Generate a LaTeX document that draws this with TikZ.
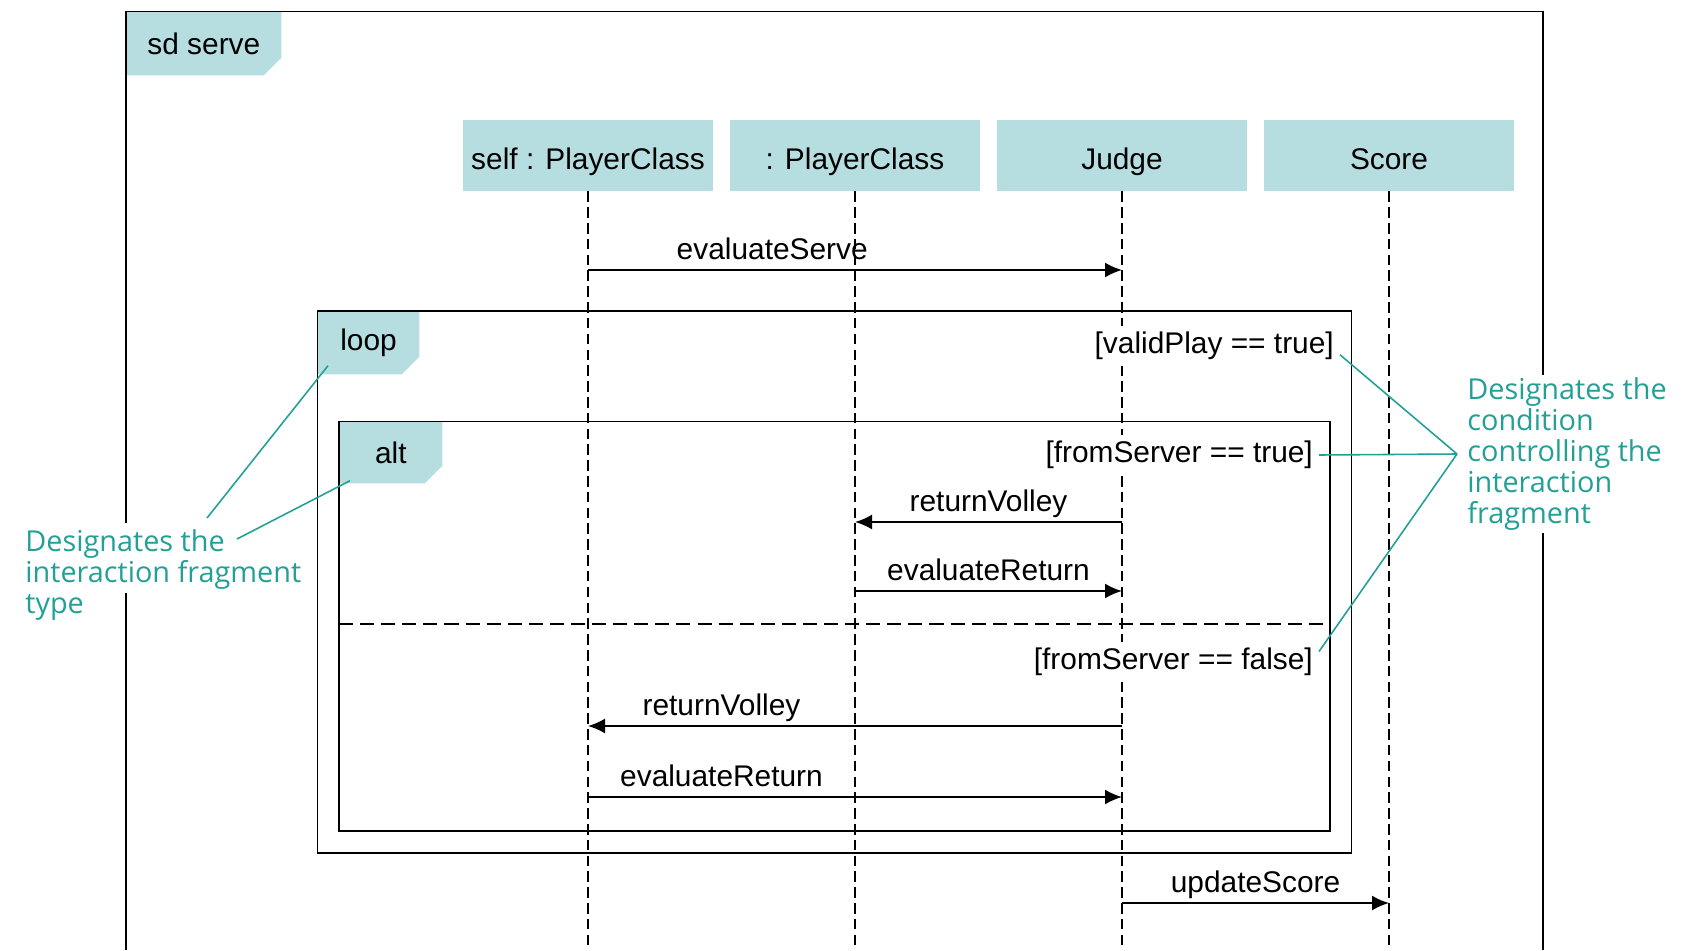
\documentclass[tikz,border=0pt]{standalone}
\usepackage{fontspec}
\setmainfont{Liberation Sans}
\newfontfamily\notefont{Open Sans}
\usetikzlibrary{arrows.meta}
\definecolor{tagfill}{RGB}{182,222,224}
\definecolor{noteteal}{RGB}{35,160,150}
\tikzset{
  frame/.style={line width=1.1pt},
  tagbox/.style={anchor=north west,inner sep=0pt,
    path picture={\fill[tagfill] (path picture bounding box.north west) -- (path picture bounding box.north east)
      -- ([yshift=0.35cm]path picture bounding box.south east) -- ([xshift=-0.35cm]path picture bounding box.south east)
      -- (path picture bounding box.south west) -- cycle;}},
  head/.style={fill=tagfill,minimum width=5cm,minimum height=1.42cm,text height=18pt,text depth=2pt},
  lifeline/.style={line width=0.9pt,dash pattern=on 6pt off 3pt},
  msg/.style={line width=1.1pt,-{Latex[length=0.34cm,width=0.3cm]}},
  msglbl/.style={anchor=base,yshift=6pt},
  cond/.style={fill=white,anchor=east},
  note/.style={noteteal,line width=0.9pt},
  notetext/.style={text=noteteal,align=left,font=\notefont\fontsize{16.4}{17.6}\selectfont,inner xsep=0.2cm,inner ysep=0.06cm}
}
\begin{document}
\begin{tikzpicture}[font=\fontsize{17}{20}\selectfont]
\useasboundingbox (0,0) rectangle (33.64,-19);
\coordinate (bottom) at (0,-19);

% lifelines
\node[head] (self) at (11.76,-3.11) {self : PlayerClass};
\node[head] (pc) at (17.1,-3.11) {: PlayerClass};
\node[head] (judge) at (22.44,-3.11) {Judge};
\node[head] (score) at (27.78,-3.11) {Score};
\foreach \n in {self,pc,judge,score}
  \draw[lifeline] (\n) -- (\n |- bottom);

% frames
\node[tagbox,minimum width=3.1cm,minimum height=1.27cm] (sdtag) at (2.52,-0.23) {sd serve};
\draw[frame] (2.52,-10.46) |- (30.86,-0.23) -- (30.86,-19);
\draw[frame] (2.52,-11.86) -- (2.52,-19);
\node[tagbox,minimum width=2.03cm,minimum height=1.26cm] (looptag) at (6.35,-6.22) {loop};
\draw[frame] (6.35,-6.22) rectangle (27.03,-17.06);
\node[tagbox,minimum width=2.06cm,minimum height=1.23cm] (alttag) at (6.78,-8.43) {alt};
\draw[frame] (6.78,-8.43) rectangle (26.6,-16.62);
\draw[frame,dash pattern=on 8pt off 4pt] (6.78,-12.48) -- (26.6,-12.48);

% messages
\coordinate (m1) at (0,-5.4);
\coordinate (m2) at (0,-10.44);
\coordinate (m3) at (0,-11.82);
\coordinate (m4) at (0,-14.52);
\coordinate (m5) at (0,-15.94);
\coordinate (m6) at (0,-18.06);
\draw[msg] (self |- m1) -- node[msglbl,pos=.345] {evaluateServe} (judge |- m1);
\draw[msg] (judge |- m2) -- node[msglbl] {returnVolley} (pc |- m2);
\draw[msg] (pc |- m3) -- node[msglbl] {evaluateReturn} (judge |- m3);
\draw[msg] (judge |- m4) -- node[msglbl,pos=.75] {returnVolley} (self |- m4);
\draw[msg] (self |- m5) -- node[msglbl,pos=.25] {evaluateReturn} (judge |- m5);
\draw[msg] (judge |- m6) -- node[msglbl] {updateScore} (score |- m6);

% guards
\node[cond] (cv) at (26.8,-6.92) {[validPlay == true]};
\node[cond] (ct) at (26.38,-9.1) {[fromServer == true]};
\node[cond] (cf) at (26.38,-13.24) {[fromServer == false]};

% notes
\node[notetext,anchor=west] (typenote) at (0.3,-11.5) {Designates the\\interaction fragment\\type};
\coordinate (ta) at (4.14,-10.36);
\coordinate (tb) at (4.74,-10.78);
\draw[note] (ta) -- ([shift={(0.21,0.18)}]looptag.south west);
\draw[note] (tb) -- ([shift={(0.22,0.06)}]alttag.south west);

\node[notetext,fill=white,anchor=west] (condnote) at (29.14,-9.08) {Designates the\\condition\\controlling the\\interaction\\fragment};
\draw[note] ([yshift=-5pt]cv.east) -- (condnote.west);
\draw[note] (ct.east) -- (condnote.west);
\draw[note] ([yshift=6pt]cf.east) -- (condnote.west);
\end{tikzpicture}
\end{document}
